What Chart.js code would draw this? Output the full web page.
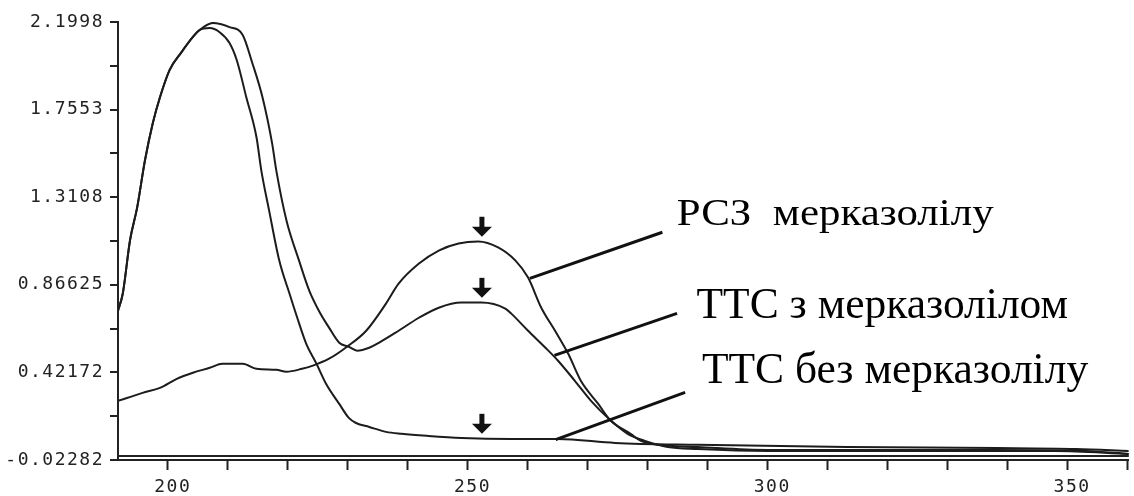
<!DOCTYPE html>
<html lang="uk">
<head>
<meta charset="utf-8">
<title>УФ-спектри</title>
<script src="https://cdn.jsdelivr.net/npm/chart.js@4/dist/chart.umd.min.js"></script>
<style>
    html, body { margin: 0; padding: 0; background: #ffffff; }
    #wrap { width: 1134px; height: 496px; position: relative; }
</style>
</head>
<body>
<div id="wrap"><canvas id="spectrum"></canvas></div>
<script>
// ============================
// Data
// ============================
const seriesNames = ["РСЗ  мерказолілу", "ТТС з мерказолілом", "ТТС без мерказолілу"];

// РСЗ мерказолілу
const rszWave = [191.7, 195.8, 198.7, 201.5, 204.2, 207.0, 209.1, 212.5, 214.8, 218.1, 219.8, 222.4, 224.1,
    226.9, 229.9, 233.1, 236.4, 238.5, 241.9, 245.2, 248.5, 251.8, 255.1, 258.0, 260.1, 262.3, 264.6, 266.8,
    268.9, 271.8, 273.9, 277.2, 278.9, 281.7, 288.4, 300.0, 338.0, 353.0, 360.3];
const rszAbs = [0.277, 0.318, 0.343, 0.389, 0.420, 0.445, 0.466, 0.466, 0.440, 0.435, 0.425, 0.440, 0.455,
    0.491, 0.552, 0.633, 0.771, 0.872, 0.974, 1.040, 1.076, 1.086, 1.056, 0.989, 0.903, 0.750, 0.633, 0.516,
    0.379, 0.262, 0.176, 0.110, 0.074, 0.054, 0.043, 0.028, 0.028, 0.023, 0.008];

// ТТС з мерказолілом
const ttsMercWave = [191.7, 192.5, 193.7, 194.9, 196.2, 197.5, 198.7, 200.3, 202.3, 204.2, 205.3, 207.5,
    210.3, 212.5, 214.1, 215.8, 217.4, 218.1, 219.8, 221.9, 223.6, 225.2, 226.9, 228.6, 230.2, 231.6, 233.6,
    235.2, 238.5, 241.9, 245.2, 249.0, 252.3, 256.3, 257.3, 260.1, 263.0, 265.1, 267.9, 270.6, 273.4, 276.7,
    279.6, 283.4, 288.4, 300.0, 338.0, 348.0, 360.3];
const ttsMercAbs = [0.735, 0.822, 1.091, 1.259, 1.498, 1.686, 1.818, 1.956, 2.047, 2.124, 2.159, 2.195,
    2.174, 2.134, 1.992, 1.818, 1.585, 1.447, 1.193, 0.989, 0.837, 0.735, 0.649, 0.572, 0.552, 0.532, 0.547,
    0.572, 0.633, 0.699, 0.750, 0.776, 0.776, 0.745, 0.720, 0.633, 0.547, 0.481, 0.379, 0.277, 0.191, 0.110,
    0.074, 0.043, 0.033, 0.023, 0.023, 0.023, 0.008];

// ТТС без мерказолілу
const ttsBlankWave = [191.7, 192.5, 193.7, 194.9, 196.2, 197.5, 198.7, 200.3, 202.3, 204.2, 205.3, 207.0,
    208.6, 210.3, 211.5, 213.1, 214.8, 215.6, 216.9, 218.6, 220.3, 221.6, 223.1, 224.8, 226.4, 228.6, 230.2,
    231.4, 233.6, 236.4, 239.0, 243.5, 249.0, 257.3, 265.1, 274.6, 288.4, 313.3, 338.2, 351.5, 360.3];
const ttsBlankAbs = [0.735, 0.822, 1.091, 1.259, 1.498, 1.686, 1.818, 1.956, 2.047, 2.124, 2.159, 2.169,
    2.149, 2.093, 2.007, 1.818, 1.615, 1.447, 1.244, 0.989, 0.822, 0.699, 0.567, 0.466, 0.364, 0.262, 0.191,
    0.165, 0.145, 0.120, 0.110, 0.099, 0.089, 0.084, 0.084, 0.064, 0.054, 0.043, 0.038, 0.033, 0.023];

// Axis ticks
const xTickLabels = [200, 250, 300, 350];
const yTickValues = [-0.02282, 0.42172, 0.86625, 1.3108, 1.7553, 2.1998];
const yTickLabels = ["-0.02282", "0.42172", "0.86625", "1.3108", "1.7553", "2.1998"];

// Arrows over the 252 nm band (tip absorbance)
const arrowWave = 252.4;
const arrowTips = [1.11, 0.80, 0.11];

// Callout lines: from curve point to text
const calloutFrom = [[260.4, 0.899], [264.5, 0.508], [264.7, 0.081]];
const calloutTo = [[282.5, 1.133], [284.95, 0.721], [286.3, 0.320]];
const calloutText = [[284.9, 1.168], [288.2, 0.700], [289.1, 0.366]];

// ============================
// Helpers
// ============================
function toPoints(xs, ys) {
    return xs.map((x, i) => ({ x: x, y: ys[i] }));
}

function lineSet(label, xs, ys) {
    return {
        label: label,
        data: toPoints(xs, ys),
        borderColor: "#1c1c1c",
        borderWidth: 2,
        pointRadius: 0,
        fill: false,
        cubicInterpolationMode: "monotone"
    };
}

// minor y ticks sit half way between the printed ones
function buildYTicks() {
    const list = [];
    for (let i = 0; i < yTickValues.length; i++) {
        list.push({ value: yTickValues[i] });
        if (i < yTickValues.length - 1) {
            list.push({ value: (yTickValues[i] + yTickValues[i + 1]) / 2 });
        }
    }
    list.push({ value: 0 }); // zero line
    return list.sort((a, b) => a.value - b.value);
}

// ============================
// Plugins
// ============================
const spacingPlugin = {
    id: "spacing",
    beforeDraw(chart) {
        chart.ctx.letterSpacing = "1.5px";
    }
};

const notesPlugin = {
    id: "notes",
    afterDatasetsDraw(chart) {
        const ctx = chart.ctx;
        const xs = chart.scales.x;
        const ys = chart.scales.y;
        ctx.save();
        ctx.letterSpacing = "0px";

        // arrows
        ctx.fillStyle = "#111";
        const ax = xs.getPixelForValue(arrowWave);
        arrowTips.forEach(v => {
            const tip = ys.getPixelForValue(v);
            ctx.fillRect(ax - 2.5, tip - 20, 5, 11);
            ctx.beginPath();
            ctx.moveTo(ax - 10, tip - 10);
            ctx.lineTo(ax + 10, tip - 10);
            ctx.lineTo(ax, tip);
            ctx.closePath();
            ctx.fill();
        });

        // callout lines
        ctx.strokeStyle = "#111";
        ctx.lineWidth = 3;
        calloutFrom.forEach((p, i) => {
            ctx.beginPath();
            ctx.moveTo(xs.getPixelForValue(p[0]), ys.getPixelForValue(p[1]));
            ctx.lineTo(xs.getPixelForValue(calloutTo[i][0]), ys.getPixelForValue(calloutTo[i][1]));
            ctx.stroke();
        });

        // labels (first one is printed a bit lower and wider)
        ctx.fillStyle = "#000";
        ctx.textBaseline = "alphabetic";
        ctx.textAlign = "left";
        const sizes = [38, 43.5, 43.5];
        const stretch = [1.13, 1, 1];
        calloutText.forEach((p, i) => {
            ctx.save();
            ctx.translate(xs.getPixelForValue(p[0]), ys.getPixelForValue(p[1]));
            ctx.scale(stretch[i], 1);
            ctx.font = sizes[i] + "px 'Liberation Serif', 'Times New Roman', serif";
            ctx.fillText(seriesNames[i], 0, 0);
            ctx.restore();
        });
        ctx.restore();
    }
};

// ============================
// Chart
// ============================
const tickFont = { family: "'DejaVu Sans Mono', monospace", size: 18 };

new Chart(document.getElementById("spectrum"), {
    type: "line",
    data: {
        datasets: [
            lineSet(seriesNames[0], rszWave, rszAbs),
            lineSet(seriesNames[1], ttsMercWave, ttsMercAbs),
            lineSet(seriesNames[2], ttsBlankWave, ttsBlankAbs)
        ]
    },
    options: {
        responsive: true,
        maintainAspectRatio: false,
        animation: false,
        layout: { padding: { top: 22, left: 0, right: 0, bottom: 0 } },
        plugins: {
            legend: { display: false },
            tooltip: { enabled: false }
        },
        scales: {
            x: {
                type: "linear",
                min: 191.7,
                max: 360.3,
                afterBuildTicks: scale => {
                    const t = [];
                    for (let v = 200; v <= 360; v += 10) t.push({ value: v });
                    scale.ticks = t;
                },
                afterFit: scale => { scale.height = 36; },
                ticks: {
                    font: tickFont,
                    color: "#222",
                    padding: 7,
                    labelOffset: 5,
                    maxRotation: 0,
                    autoSkip: false,
                    callback: v => xTickLabels.includes(v) ? String(v) : ""
                },
                grid: {
                    drawOnChartArea: false,
                    tickLength: 10,
                    tickWidth: 2,
                    tickColor: "#222"
                },
                border: { color: "#222", width: 2 }
            },
            y: {
                type: "linear",
                min: -0.02282,
                max: 2.1998,
                afterBuildTicks: scale => { scale.ticks = buildYTicks(); },
                afterFit: scale => { scale.width = 118; },
                ticks: {
                    font: tickFont,
                    color: "#222",
                    padding: 6,
                    autoSkip: false,
                    callback: v => {
                        const i = yTickValues.indexOf(v);
                        return i >= 0 ? yTickLabels[i] : "";
                    }
                },
                grid: {
                    drawOnChartArea: true,
                    tickLength: 8,
                    lineWidth: 2,
                    color: c => (c.tick && c.tick.value === 0) ? "#222" : "rgba(0,0,0,0)",
                    tickColor: c => (c.tick && c.tick.value === 0) ? "rgba(0,0,0,0)" : "#222"
                },
                border: { color: "#222", width: 2 }
            }
        }
    },
    plugins: [spacingPlugin, notesPlugin]
});
</script>
</body>
</html>
